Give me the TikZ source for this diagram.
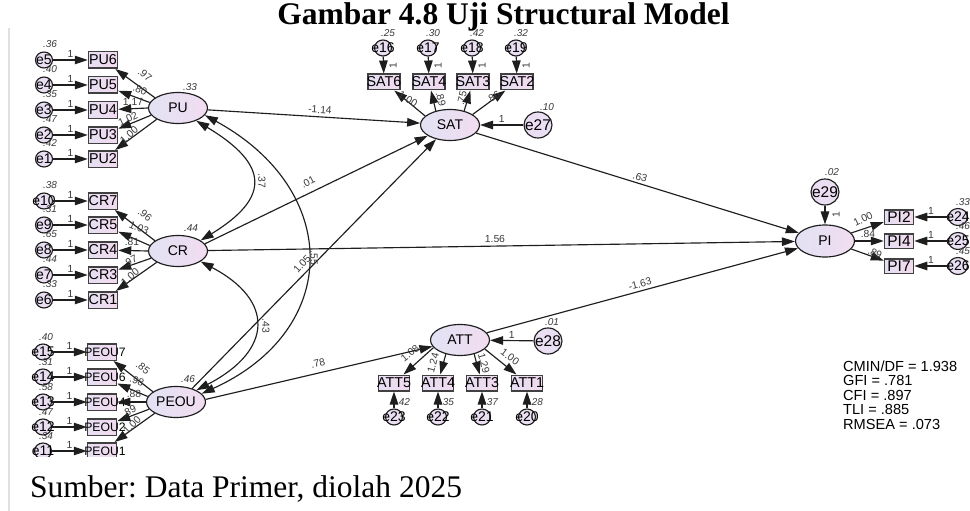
\documentclass[tikz,border=0pt]{standalone}
\usepackage{fontspec}
\setmainfont{Liberation Serif}
\setsansfont{Liberation Sans}
\usetikzlibrary{arrows.meta,shapes.geometric}
\definecolor{latL}{HTML}{E2E2F4}
\definecolor{latR}{HTML}{F2DCF0}
\definecolor{boxL}{HTML}{E6DEF2}
\definecolor{boxR}{HTML}{F2DAEE}
\definecolor{errF}{HTML}{EADFF2}
\definecolor{ink}{HTML}{1E1E1E}
\definecolor{lbl}{HTML}{3A3A3A}
\newcommand{\myLatFont}{\sffamily\fontsize{14}{15}\selectfont}
\newcommand{\myBoxFont}{\sffamily\fontsize{14.3}{15}\selectfont}
\newcommand{\myPBoxFont}{\sffamily\fontsize{12.2}{13}\selectfont}
\newcommand{\myErrFont}{\sffamily\fontsize{14}{15}\selectfont}
\newcommand{\myBigErrFont}{\sffamily\fontsize{15.5}{16}\selectfont}
\newcommand{\myCoefFont}{\sffamily\fontsize{10.3}{11}\selectfont}
\newcommand{\myVarFont}{\sffamily\itshape\fontsize{10}{11}\selectfont}
\tikzset{
  lat/.style={ellipse, draw=ink, line width=1.15pt, left color=latL, right color=latR,
    minimum width=59pt, minimum height=31pt, inner sep=0pt, font=\myLatFont},
  obs/.style={rectangle, draw=ink!85, line width=1.5pt, left color=boxL, right color=boxR,
    minimum width=29pt, minimum height=16.5pt, inner sep=0pt,
    label={[font=\myBoxFont, inner sep=0pt]center:#1}},
  obsP/.style={obs=, label={[font=\myPBoxFont, inner sep=0pt, xshift=3pt]center:#1}},
  obsS/.style={obs=#1, minimum width=32pt, minimum height=15.5pt},
  obsI/.style={rectangle, draw=ink!85, line width=1.5pt, left color=boxL, right color=boxR,
    minimum width=29pt, minimum height=14.5pt, inner sep=0pt,
    label={[font=\myBigErrFont, inner sep=0pt]center:#1}},
  err/.style={ellipse, draw=ink, line width=1.15pt, fill=errF,
    minimum width=17pt, minimum height=16pt, inner sep=0pt,
    label={[font=\myErrFont, inner sep=0pt]center:#1}},
  errB/.style={ellipse, draw=ink, line width=1.15pt, fill=errF,
    minimum width=28pt, minimum height=26pt, inner sep=0pt,
    label={[font=\myBigErrFont, inner sep=0pt]center:#1}},
  arr/.style={draw=ink, line width=1.15pt, -{Triangle[length=13pt,width=8.5pt]}},
  cov/.style={draw=ink, line width=1.15pt,
    {Triangle[length=13pt,width=8.5pt]}-{Triangle[length=13pt,width=8.5pt]}},
  coef/.style={font=\myCoefFont, text=lbl, inner sep=0pt},
  var/.style={font=\myVarFont, text=lbl, inner sep=0pt},
  one/.style={font=\myCoefFont, text=lbl, inner sep=0pt},
  fitline/.style={font=\sffamily\fontsize{14.6}{15}\selectfont, anchor=base west, inner sep=0pt}
}
\begin{document}
\begin{tikzpicture}[x=1pt,y=-1pt]
\useasboundingbox (0,0) rectangle (970,511);
\fill[white] (0,0) rectangle (970,511);
\draw[black!12, line width=1.5pt] (9,28) -- (9,511);

\node[anchor=base, font=\bfseries\fontsize{31.5}{34}\selectfont, inner sep=0pt] (title) at (503.5,24.5) {Gambar 4.8 Uji Structural Model};
\node[anchor=base west, font=\frenchspacing\fontsize{31.5}{34}\selectfont, inner sep=0pt] (caption) at (30,497) {Sumber: Data Primer, diolah 2025};

\begin{scope}
\clip (10,28) rectangle (970,456);

% latent variables
\node[lat] (PU) at (178,108) {PU};
\node[lat] (CR) at (178,251) {CR};
\node[lat] (PEOU) at (176,402) {PEOU};
\node[lat] (SAT) at (450,125) {SAT};
\node[lat] (ATT) at (460,340) {ATT};
\node[lat, minimum height=32pt] (PI) at (825,241) {PI};

\node[var] (vPU) at (190,87) {.33};
\node[var] (vCR) at (191,228) {.44};
\node[var] (vPEOU) at (188,379) {.46};

% left indicator blocks
\foreach \e/\b/\y/\v in {e5/PU6/60/.36, e4/PU5/85/.40, e3/PU4/110/.35, e2/PU3/135/.47, e1/PU2/159/.42,
  e10/CR7/201/.38, e9/CR5/225/.31, e8/CR4/250/.65, e7/CR3/275/.44, e6/CR1/300/.33}{
  \node[err=\e] (\e) at (44,\y) {};
  \node[obs=\b] (\b) at (103,\y) {};
  \draw[arr] (\e) -- node[one, above=1.5pt] (o\e) {1} (\b);
  \node[var] (v\e) at (50,\y-16) {\v};
}
\foreach \e/\b/\y/\v in {e15/PEOU7/352/.40, e14/PEOU6/377/.31, e13/PEOU4/402/.58, e12/PEOU2/427/.47, e11/PEOU1/451/.34}{
  \node[err=\e] (\e) at (43,\y) {};
  \node[obsP=\b] (\b) at (102,\y) {};
  \draw[arr] (\e) -- node[one, above=1.5pt] (o\e) {1} (\b);
  \node[var] (v\e) at (46,\y-15) {\v};
}

% loadings PU
\draw[arr] (PU.156) -- (PU6);
\draw[arr] (PU.169) -- (PU5);
\draw[arr] (PU.180) -- (PU4);
\draw[arr] (PU.195) -- (PU3);
\draw[arr] (PU.208) -- (PU2);
\node[coef, rotate=-40] (lPU6) at (145,75) {.97};
\node[coef, rotate=-23] (lPU5) at (140,90) {.80};
\node[coef] (lPU4) at (133,102) {1.17};
\node[coef, rotate=25] (lPU3) at (128,119) {1.02};
\node[coef, rotate=42] (lPU2) at (129,135) {1.00};
% loadings CR
\draw[arr] (CR.156) -- (CR7);
\draw[arr] (CR.169) -- (CR5);
\draw[arr] (CR.180) -- (CR4);
\draw[arr] (CR.195) -- (CR3);
\draw[arr] (CR.208) -- (CR1);
\node[coef, rotate=-40] (lCR7) at (145,215) {.96};
\node[coef, rotate=-23] (lCR5) at (139,228) {1.03};
\node[coef] (lCR4) at (132,242) {.81};
\node[coef, rotate=25] (lCR3) at (130,261) {.97};
\node[coef, rotate=42] (lCR1) at (130,277) {1.00};
% loadings PEOU
\draw[arr] (PEOU.156) -- (PEOU7);
\draw[arr] (PEOU.169) -- (PEOU6);
\draw[arr] (PEOU.180) -- (PEOU4);
\draw[arr] (PEOU.195) -- (PEOU2);
\draw[arr] (PEOU.208) -- (PEOU1);
\node[coef, rotate=-40] (lP7) at (143,368) {.85};
\node[coef, rotate=-23] (lP6) at (137,381) {.98};
\node[coef] (lP4) at (134,394) {.88};
\node[coef, rotate=25] (lP2) at (129,411) {.89};
\node[coef, rotate=45] (lP1) at (132,425) {1.00};

% SAT block
\foreach \e/\b/\x/\v in {e16/SAT6/384/.25, e17/SAT4/429/.30, e18/SAT3/473/.42, e19/SAT2/517/.32}{
  \node[err=\e] (\e) at (\x-1,48) {};
  \node[obsS=\b] (\b) at (\x,82) {};
  \draw[arr] (\e) -- (\b);
  \node[one, rotate=90] (o\e) at (\x+9,66) {1};
  \node[var] (v\e) at (\x+4,33) {\v};
}
\draw[arr] (SAT.160) -- (SAT6);
\draw[arr] (SAT.135) -- (SAT4);
\draw[arr] (SAT.45) -- (SAT3);
\draw[arr] (SAT.25) -- (SAT2);
\node[coef, rotate=-32] (lS6) at (408,99) {1.00};
\node[coef, rotate=-75] (lS4) at (441,99) {.89};
\node[coef, rotate=76] (lS3) at (462,98) {.75};
\node[coef, rotate=31] (lS2) at (493,97) {.86};
\node[errB=e27] (e27) at (538,125) {};
\draw[arr] (e27) -- node[one, above=2pt] (oe27) {1} (SAT);
\node[var] (ve27) at (547,107) {.10};

% ATT block
\foreach \e/\b/\x/\v in {e23/ATT5/394/.42, e22/ATT4/438/.35, e21/ATT3/482/.37, e20/ATT1/527/.28}{
  \node[obsS=\b, minimum width=31pt] (\b) at (\x,383) {};
  \node[err=\e] (\e) at (\x,417) {};
  \draw[arr] (\e) -- (\b);
  \node[var] (v\e) at (\x+9,402) {\v};
}
\draw[arr] (ATT.196) -- (ATT5);
\draw[arr] (ATT.225) -- (ATT4);
\draw[arr] (ATT.315) -- (ATT3);
\draw[arr] (ATT.340) -- (ATT1);
\node[coef, rotate=39] (lA5) at (410,353) {1.08};
\node[coef, rotate=75] (lA4) at (433,363) {1.24};
\node[coef, rotate=-75] (lA3) at (484,363) {1.29};
\node[coef, rotate=-37] (lA1) at (510,357) {1.00};
\node[errB=e28] (e28) at (548,341) {};
\draw[arr] (e28) -- node[one, above=2pt] (oe28) {1} (ATT);
\node[var] (ve28) at (552,322) {.01};

% PI block
\node[errB=e29] (e29) at (825,192) {};
\draw[arr] (e29) -- (PI);
\node[one, rotate=90] (oe29) at (836,215) {1};
\node[var] (ve29) at (832,172) {.02};
\foreach \e/\b/\y/\v in {e24/PI2/217/.33, e25/PI4/241/.46, e26/PI7/266/.45}{
  \node[obsI=\b] (\b) at (899,\y) {};
  \node[err=\e, minimum width=19pt, minimum height=17pt] (\e) at (958,\y) {};
  \draw[arr] (\e) -- node[one, above=1.5pt] (o\e) {1} (\b);
  \node[var] (v\e) at (963,\y-15) {\v};
}
\draw[arr] (PI.17) -- (PI2);
\draw[arr] (PI) -- (PI4);
\draw[arr] (PI.-17) -- (PI7);
\node[coef, rotate=26] (lI2) at (863,219) {1.00};
\node[coef] (lI4) at (868,234) {.84};
\node[coef, rotate=-26] (lI7) at (875,253) {.89};

% structural paths
\draw[arr] (PU) -- (SAT);
\draw[arr] (CR.15) -- (SAT);
\draw[arr] (PEOU.40) -- (SAT);
\draw[arr] (PEOU.5) -- (ATT);
\draw[arr] (CR) -- (PI);
\draw[arr] (SAT) -- (PI);
\draw[arr] (ATT) -- (PI);
\node[coef, rotate=-4] (lPUSAT) at (320,110) {-1.14};
\node[coef, rotate=28] (lCRSAT) at (308,182) {.01};
\node[coef, rotate=48] (lPESAT) at (302,264) {1.05};
\node[coef, rotate=13] (lPEATT) at (318,363) {.78};
\node[coef, rotate=-1] (lCRPI) at (495,239) {1.56};
\node[coef, rotate=-18] (lSATPI) at (640,177) {.63};
\node[coef, rotate=15] (lATTPI) at (640,284) {-1.63};

% covariances
\draw[cov] (PU.-35) .. controls (270,165) and (270,198) .. (CR.25);
\draw[cov] (CR.-25) .. controls (274,300) and (274,350) .. (PEOU.30);
\draw[cov] (PU.-15) .. controls (342,190) and (342,330) .. (PEOU.18);
\node[coef, rotate=-90] (lPUCR) at (262,181) {.37};
\node[coef, rotate=-90] (lCRPE) at (266,326) {.43};
\node[coef, rotate=-90] (lPUPE) at (314,258) {.55};
\end{scope}

% fit indices
\node[fitline] (fit1) at (843,371) {CMIN/DF = 1.938};
\node[fitline] (fit2) at (843,385.5) {GFI = .781};
\node[fitline] (fit3) at (843,400) {CFI = .897};
\node[fitline] (fit4) at (843,414.5) {TLI = .885};
\node[fitline] (fit5) at (843,429) {RMSEA = .073};
\end{tikzpicture}
\end{document}
